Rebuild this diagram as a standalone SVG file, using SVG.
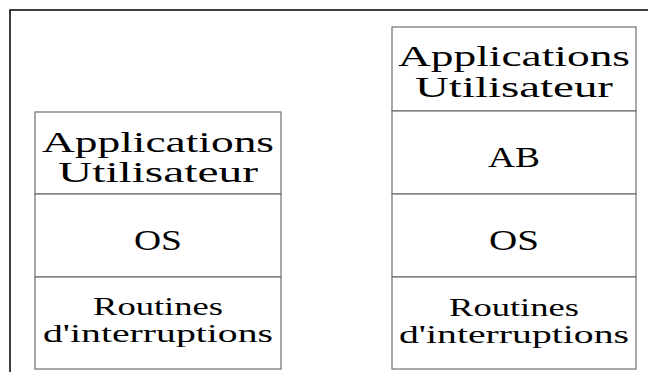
<svg xmlns="http://www.w3.org/2000/svg" width="648" height="378" viewBox="0 0 648 378">
<style>
.cell{fill:#ffffff;stroke:#6e6e6e;stroke-width:1.2}
.t{font-family:"Liberation Serif","Times New Roman",serif;font-size:30px;fill:#000;text-anchor:middle}
.s{font-family:"Liberation Serif","Times New Roman",serif;font-size:26px;fill:#000;text-anchor:middle}
.frame{fill:none;stroke:#000;stroke-width:1.5}
</style>
<rect width="648" height="378" fill="#ffffff"/>
<g id="frame"><path class="frame" d="M10,372 V10 H648"/></g>
<g id="left-apps"><rect class="cell" x="35" y="112" width="246" height="82"/>
<text class="t" x="158" y="152" textLength="232" lengthAdjust="spacingAndGlyphs">Applications</text>
<text class="t" x="158" y="182" textLength="200" lengthAdjust="spacingAndGlyphs">Utilisateur</text></g>
<g id="left-os"><rect class="cell" x="35" y="194" width="246" height="83"/>
<text class="t" x="158" y="250" textLength="48" lengthAdjust="spacingAndGlyphs">OS</text></g>
<g id="left-routines"><rect class="cell" x="35" y="277" width="246" height="92"/>
<text class="s" x="158" y="315" textLength="130" lengthAdjust="spacingAndGlyphs">Routines</text>
<text class="s" x="158" y="342" textLength="230" lengthAdjust="spacingAndGlyphs">d'interruptions</text></g>
<g id="right-apps"><rect class="cell" x="392" y="27" width="244" height="84"/>
<text class="t" x="514" y="66" textLength="232" lengthAdjust="spacingAndGlyphs">Applications</text>
<text class="t" x="514" y="97" textLength="198" lengthAdjust="spacingAndGlyphs">Utilisateur</text></g>
<g id="right-ab"><rect class="cell" x="392" y="111" width="244" height="83"/>
<text class="t" x="514" y="167" textLength="52" lengthAdjust="spacingAndGlyphs">AB</text></g>
<g id="right-os"><rect class="cell" x="392" y="194" width="244" height="83"/>
<text class="t" x="514" y="250" textLength="50" lengthAdjust="spacingAndGlyphs">OS</text></g>
<g id="right-routines"><rect class="cell" x="392" y="277" width="244" height="92"/>
<text class="s" x="514" y="316" textLength="130" lengthAdjust="spacingAndGlyphs">Routines</text>
<text class="s" x="514" y="343" textLength="230" lengthAdjust="spacingAndGlyphs">d'interruptions</text></g>
<g id="connectors"></g>
</svg>
